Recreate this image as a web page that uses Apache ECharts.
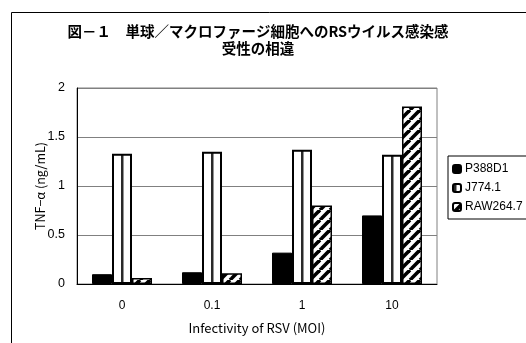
<!DOCTYPE html>
<html>
<head>
<meta charset="utf-8">
<script src="https://cdn.jsdelivr.net/npm/echarts@6/dist/echarts.min.js"></script>
<style>
  html, body { margin: 0; padding: 0; background: #fff; }
  #chart { width: 526px; height: 343px; }
</style>
</head>
<body>
<div id="chart"></div>
<script>
// MOI categories and TNF-α release (ng/mL) per cell line
const categories = ['0', '0.1', '1', '10'];
const p388d1 = [0.10, 0.12, 0.32, 0.70];
const j774 = [1.33, 1.35, 1.37, 1.32];
const raw264 = [0.06, 0.11, 0.80, 1.81];
const yTicks = [0, 0.5, 1, 1.5, 2];

const titleLines = ['図－１　単球／マクロファージ細胞へのRSウイルス感染感', '受性の相違'];

// Fill tiles for the white striped and hatched bars
function verticalStripes() {
  const c = document.createElement('canvas');
  c.width = 10; c.height = 10;
  const g = c.getContext('2d');
  g.fillStyle = '#fff';
  g.fillRect(0, 0, 10, 10);
  g.fillStyle = '#2a2a2a';
  g.fillRect(1, 0, 2.5, 10);
  return c;
}
function diagonalHatch() {
  const s = 10;
  const c = document.createElement('canvas');
  c.width = s; c.height = s;
  const g = c.getContext('2d');
  g.fillStyle = '#fff';
  g.fillRect(0, 0, s, s);
  g.strokeStyle = '#000';
  g.lineWidth = 3.6;
  for (let k = -1; k <= 1; k++) {
    g.beginPath();
    g.moveTo(k * s, s);
    g.lineTo(k * s + s, 0);
    g.stroke();
  }
  return c;
}

const chart = echarts.init(document.getElementById('chart'), null, { renderer: 'canvas' });

const axisFont = 'Liberation Sans, Arial, sans-serif';
const cjkFont = '"Noto Sans CJK JP", sans-serif';

chart.setOption({
  animation: false,
  backgroundColor: '#fff',
  title: {
    text: titleLines.join('\n'),
    left: 253,
    textAlign: 'center',
    top: 18,
    textStyle: {
      fontFamily: cjkFont,
      fontSize: 14.5,
      fontWeight: 'bold',
      color: '#000',
      lineHeight: 17
    }
  },
  graphic: [{
    type: 'rect',
    shape: { x: 11.5, y: 12.5, width: 700, height: 500 },
    style: { fill: 'none', stroke: '#000', lineWidth: 1 },
    silent: true,
    z: -1
  }],
  legend: {
    orient: 'vertical',
    left: 448,
    top: 156,
    itemWidth: 8,
    itemHeight: 8,
    itemGap: 7,
    padding: [7, 6, 6, 4],
    borderColor: '#000',
    borderWidth: 1,
    backgroundColor: '#fff',
    textStyle: { fontFamily: axisFont, fontSize: 12, color: '#000', padding: [0, 0, 0, -1] },
    data: ['P388D1', 'J774.1', 'RAW264.7']
  },
  grid: {
    left: 77,
    top: 88,
    width: 360,
    height: 196,
    show: true,
    borderColor: '#808080',
    borderWidth: 1
  },
  xAxis: {
    type: 'category',
    data: categories,
    name: 'Infectivity of RSV (MOI)',
    nameLocation: 'middle',
    nameGap: 38,
    nameMoveOverlap: false,
    nameTextStyle: { fontFamily: cjkFont, fontSize: 13, color: '#000' },
    axisLine: { lineStyle: { color: '#000', width: 1 } },
    axisTick: { inside: true, length: 5, lineStyle: { color: '#000' } },
    axisLabel: { fontFamily: axisFont, fontSize: 12, color: '#000', margin: 16 }
  },
  yAxis: {
    type: 'value',
    min: yTicks[0],
    max: yTicks[yTicks.length - 1],
    interval: yTicks[1] - yTicks[0],
    name: 'TNF−α (ng/mL)',
    nameLocation: 'middle',
    nameGap: 30,
    nameMoveOverlap: false,
    nameTextStyle: { fontFamily: cjkFont, fontSize: 12.5, color: '#000' },
    axisLine: { show: true, lineStyle: { color: '#000', width: 1 } },
    axisTick: { show: false },
    axisLabel: { fontFamily: axisFont, fontSize: 12.5, color: '#000', margin: 12 },
    splitLine: { lineStyle: { color: '#808080', width: 1 } }
  },
  series: [
    {
      name: 'P388D1',
      type: 'bar',
      data: p388d1,
      barWidth: 20,
      barGap: '0%',
      itemStyle: { color: '#000', borderColor: '#000', borderWidth: 1 }
    },
    {
      name: 'J774.1',
      type: 'bar',
      data: j774,
      barWidth: 20,
      barGap: '0%',
      itemStyle: {
        color: { image: verticalStripes(), repeat: 'repeat' },
        borderColor: '#000',
        borderWidth: 2
      }
    },
    {
      name: 'RAW264.7',
      type: 'bar',
      data: raw264,
      barWidth: 20,
      barGap: '0%',
      itemStyle: {
        color: { image: diagonalHatch(), repeat: 'repeat' },
        borderColor: '#000',
        borderWidth: 1.5
      }
    }
  ]
});
</script>
</body>
</html>
